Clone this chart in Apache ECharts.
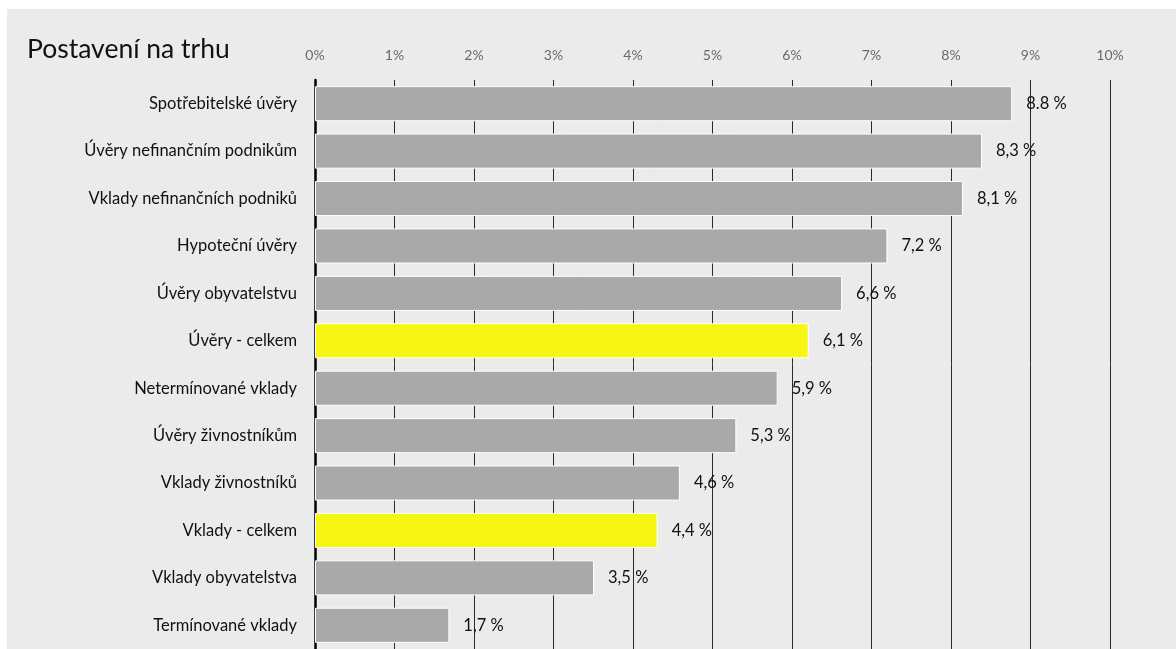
<!DOCTYPE html>
<html>
<head>
<meta charset="utf-8">
<script src="https://cdn.jsdelivr.net/npm/echarts@6/dist/echarts.min.js"></script>
<style>
  html, body { margin: 0; padding: 0; background: #fff; }
  .bg { position: absolute; left: 7px; top: 9px; right: 0; bottom: 0; background: #ebebeb; }
  #main { position: absolute; left: 0; top: 0; width: 1176px; height: 649px; }
</style>
</head>
<body>
<div class="bg"></div>
<div id="main"></div>
<script>
// kategorie shora dolu
const categories = [
  'Spotřebitelské úvěry',
  'Úvěry nefinančním podnikům',
  'Vklady nefinančních podniků',
  'Hypoteční úvěry',
  'Úvěry obyvatelstvu',
  'Úvěry - celkem',
  'Netermínované vklady',
  'Úvěry živnostníkům',
  'Vklady živnostníků',
  'Vklady - celkem',
  'Vklady obyvatelstva',
  'Termínované vklady'
];
// delka sloupcu
const values = [8.77, 8.39, 8.15, 7.2, 6.63, 6.21, 5.82, 5.3, 4.59, 4.31, 3.51, 1.69];
// popisky u sloupcu
const valueLabels = ['8.8 %', '8,3 %', '8,1 %', '7,2 %', '6,6 %', '6,1 %', '5,9 %', '5,3 %', '4,6 %', '4,4 %', '3,5 %', '1,7 %'];
// zvyraznene souhrnne polozky
const highlighted = ['Úvěry - celkem', 'Vklady - celkem'];
const tickLabels = ['0%', '1%', '2%', '3%', '4%', '5%', '6%', '7%', '8%', '9%', '10%'];

const font = 'Lato, "Noto Sans", sans-serif';
const myChart = echarts.init(document.getElementById('main'));

const option = {
  backgroundColor: 'transparent',
  animation: false,
  title: {
    text: 'Postavení na trhu',
    left: 22,
    top: 31,
    textStyle: { fontFamily: font, fontSize: 26.5, fontWeight: 'normal', color: '#111' }
  },
  grid: { left: 315, top: 80, width: 795, height: 574 },
  xAxis: {
    type: 'value',
    position: 'top',
    min: 0,
    max: 10,
    interval: 1,
    axisLine: { show: false },
    axisTick: { show: false },
    axisLabel: {
      margin: 18,
      fontFamily: font,
      fontSize: 14,
      color: '#6a6a6a',
      formatter: (v) => tickLabels[Math.round(v)]
    },
    splitLine: { show: true, lineStyle: { color: '#2a2a2a', width: 1 } }
  },
  yAxis: {
    type: 'category',
    inverse: true,
    data: categories,
    axisLine: { show: true, lineStyle: { color: '#000', width: 2.5 } },
    axisTick: { show: false },
    axisLabel: {
      margin: 18,
      fontFamily: font,
      fontSize: 16.5,
      color: '#111'
    }
  },
  series: [{
    type: 'bar',
    data: values.map((v, i) => ({
      value: v,
      itemStyle: { color: highlighted.includes(categories[i]) ? '#f6f514' : '#a9a9a9' }
    })),
    barCategoryGap: '26%',
    itemStyle: { borderColor: '#fff', borderWidth: 1 },
    label: {
      show: true,
      position: 'right',
      distance: 14,
      fontFamily: font,
      fontSize: 16.5,
      color: '#111',
      formatter: (p) => valueLabels[p.dataIndex]
    }
  }]
};
myChart.setOption(option);
</script>
</body>
</html>
